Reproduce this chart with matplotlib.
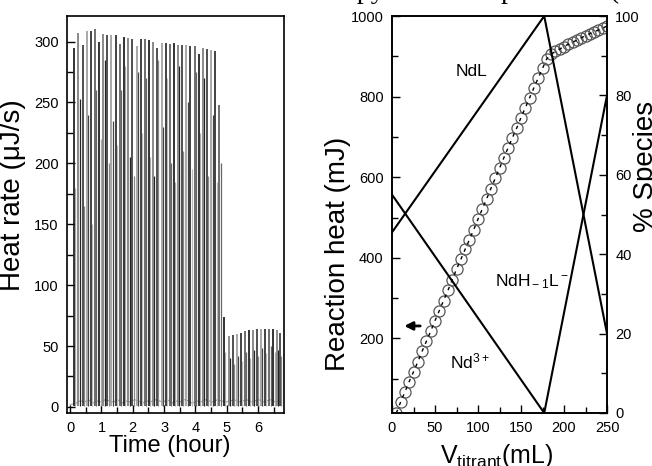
import matplotlib.pyplot as plt
import numpy as np

# ============================================================
# Data
# ============================================================

# left panel: injection peaks of the heat-rate trace
peak_time = [0.13, 0.26, 0.40, 0.53, 0.66, 0.79, 0.93, 1.06, 1.19, 1.32,
             1.46, 1.59, 1.72, 1.86, 1.99, 2.12, 2.25, 2.39, 2.52, 2.65,
             2.78, 2.92, 3.05, 3.18, 3.31, 3.45, 3.58, 3.71, 3.84, 3.98,
             4.11, 4.24, 4.37, 4.51, 4.64, 4.77,
             4.90, 5.06, 5.19, 5.32, 5.45, 5.58, 5.71, 5.84, 5.97, 6.10,
             6.23, 6.36, 6.49, 6.60, 6.69]
peak_height = [295, 307, 297, 309, 309, 310, 300, 306, 305, 305,
               305, 298, 304, 303, 302, 296, 302, 302, 301, 300,
               295, 299, 299, 298, 299, 297, 297, 297, 296, 296,
               290, 295, 294, 293, 292, 248,
               74, 58, 59, 60, 61, 62, 63, 63, 64, 64,
               64, 64, 64, 63, 61]
# top of the falling edge of each peak (drawn lighter, just after the peak)
fall_height = [180, 253, 165, 240, 150, 260, 220, 285, 200, 235,
               215, 260, 280, 205, 190, 275, 225, 270, 205, 190,
               285, 230, 270, 200, 185, 280, 210, 250, 195, 275,
               225, 270, 190, 240, 185, 200,
               45, 40, 35, 42, 38, 45, 40, 47, 42, 48,
               44, 50, 45, 47, 42]
# small bumps of the baseline between injections
base_level = [3, 5, 4, 6, 3, 5, 4, 6, 5, 4, 6, 3, 5, 4, 6, 5, 3, 5, 4, 6,
              5, 4, 6, 3, 5, 4, 6, 5, 3, 5, 4, 6, 5, 4, 6, 5,
              4, 5, 6, 4, 5, 6, 4, 5, 6, 4, 5, 6, 4, 5, 4]

# right panel: integrated reaction heat
v_titrant = [5, 10, 15, 20, 25, 30, 35, 40, 45, 50,
             55, 60, 65, 70, 75, 80, 85, 90, 95, 100,
             105, 110, 115, 120, 125, 130, 135, 140, 145, 150,
             155, 160, 165, 170, 175, 180, 185, 190, 195, 200,
             205, 210, 215, 220, 225, 230, 235, 240, 245, 250]
reaction_heat = [15, 42, 67, 93, 117, 142, 168, 193, 218, 244,
                 269, 294, 319, 345, 372, 396, 421, 445, 470, 496,
                 521, 546, 572, 597, 622, 648, 673, 698, 722, 748,
                 772, 797, 822, 846, 870, 894, 905, 912, 918, 924,
                 930, 935, 940, 946, 951, 956, 961, 965, 970, 975]

# species distribution (%)
v_nd = [0, 177]
pct_nd = [55, 0]
v_ndl = [0, 177, 250]
pct_ndl = [45.5, 100, 20]
v_ndh = [177, 250]
pct_ndh = [0, 80]

# ============================================================
# Style
# ============================================================

plt.rcParams['font.family'] = ['Liberation Sans', 'DejaVu Sans']
plt.rcParams['mathtext.fontset'] = 'custom'
plt.rcParams['mathtext.rm'] = 'Liberation Sans'
plt.rcParams['mathtext.it'] = 'Liberation Sans'

TICK_SIZE = 10.5
LABEL_SIZE = 17
YLABEL_SIZE = 20
SPINE_W = 1.2

spike_colors = ['#111111', '#777777', '#333333', '#999999', '#222222', '#555555']
fall_colors = ['#aaaaaa', '#222222', '#888888', '#444444', '#bbbbbb', '#666666']


def style_axis(ax):
    for s in ax.spines.values():
        s.set_linewidth(SPINE_W)
    ax.tick_params(which='both', direction='in', width=1.0,
                   labelsize=TICK_SIZE, pad=6)
    ax.tick_params(which='major', length=6)
    ax.tick_params(which='minor', length=4)


fig = plt.figure(figsize=(6.52, 4.66), dpi=100)

# ============================================================
# Left panel: heat rate vs time
# ============================================================

ax1 = fig.add_axes([67 / 652, 53 / 466, 217 / 652, 397 / 466])

t = np.array(peak_time)
cols = [spike_colors[i % len(spike_colors)] for i in range(len(t))]
fcols = [fall_colors[i % len(fall_colors)] for i in range(len(t))]

# baseline between the injections
mid_t = np.concatenate([[0.0], t + 0.06])
ax1.plot(mid_t, [2] + base_level, color='#999999', linewidth=0.7)
ax1.vlines(t + 0.04, 1, fall_height, colors=fcols, linewidth=0.9)
ax1.vlines(t, 1, peak_height, colors=cols, linewidth=1.2)

ax1.set_xlim(-0.1, 6.83)
ax1.set_ylim(-5, 321)
ax1.set_xticks(range(0, 7))
ax1.set_xticks(np.arange(0.5, 6.6, 1.0), minor=True)
ax1.set_yticks(range(0, 301, 50))
ax1.set_yticks(range(25, 301, 50), minor=True)
style_axis(ax1)

ax1.set_xlabel('Time (hour)', fontsize=LABEL_SIZE)
ax1.xaxis.set_label_coords(0.475, -0.055)
ax1.set_ylabel('Heat rate (\u03bcJ/s)', fontsize=YLABEL_SIZE)
ax1.yaxis.set_label_coords(-0.19, 0.55)

# ============================================================
# Right panel: reaction heat and species distribution
# ============================================================

ax2 = fig.add_axes([392 / 652, 53 / 466, 215 / 652, 397 / 466])
ax3 = ax2.twinx()

ax2.plot(v_titrant, reaction_heat, linestyle='none', marker='o',
         markersize=8, markerfacecolor='none', markeredgecolor='#555555',
         markeredgewidth=0.9, zorder=3)
ax2.plot(v_titrant, reaction_heat, color='black', linewidth=1.0,
         dashes=(2.5, 3.5), zorder=4)

ax2.annotate('', xy=(11, 231), xytext=(36, 231),
             arrowprops=dict(arrowstyle='-|>', color='black', lw=2.0,
                             mutation_scale=12))

ax2.set_xlim(0, 250)
ax2.set_ylim(15, 1000)
ax2.set_xticks(range(0, 251, 50))
ax2.set_xticks(range(25, 250, 50), minor=True)
ax2.set_yticks(range(200, 1001, 200))
ax2.set_yticks(range(100, 1000, 200), minor=True)
style_axis(ax2)
ax2.tick_params(axis='y', right=False, which='both')

ax2.set_xlabel('V$_{\\rm titrant}$(mL)', fontsize=LABEL_SIZE + 1)
ax2.xaxis.set_label_coords(0.485, -0.072)
ax2.set_ylabel('Reaction heat (mJ)', fontsize=YLABEL_SIZE)
ax2.yaxis.set_label_coords(-0.19, 0.40)

ax3.plot(v_nd, pct_nd, color='black', linewidth=1.5)
ax3.plot(v_ndl, pct_ndl, color='black', linewidth=1.5)
ax3.plot(v_ndh, pct_ndh, color='black', linewidth=1.5)

ax3.text(93, 86, 'NdL', fontsize=12.5, ha='center', va='center')
ax3.text(162, 33, 'NdH$_{\\rm -1}$L$^{\\rm -}$', fontsize=12.5,
         ha='center', va='center')
ax3.text(91, 13, 'Nd$^{\\rm 3+}$', fontsize=12.5, ha='center', va='center')

ax3.set_ylim(0, 100)
ax3.set_yticks(range(0, 101, 20))
ax3.set_yticks(range(10, 100, 20), minor=True)
style_axis(ax3)
ax3.tick_params(axis='x', which='both', bottom=False, top=False)
ax3.set_ylabel('% Species', fontsize=YLABEL_SIZE)
ax3.yaxis.set_label_coords(1.12, 0.62)

# caption line of the page above the figure, almost fully cut off
fig.text(300 / 652, 1 + 2 / 466, 'entropy at the temperatures (',
         fontsize=20, family='Liberation Serif', ha='left', va='baseline')

fig.savefig('out.png', dpi=100)
